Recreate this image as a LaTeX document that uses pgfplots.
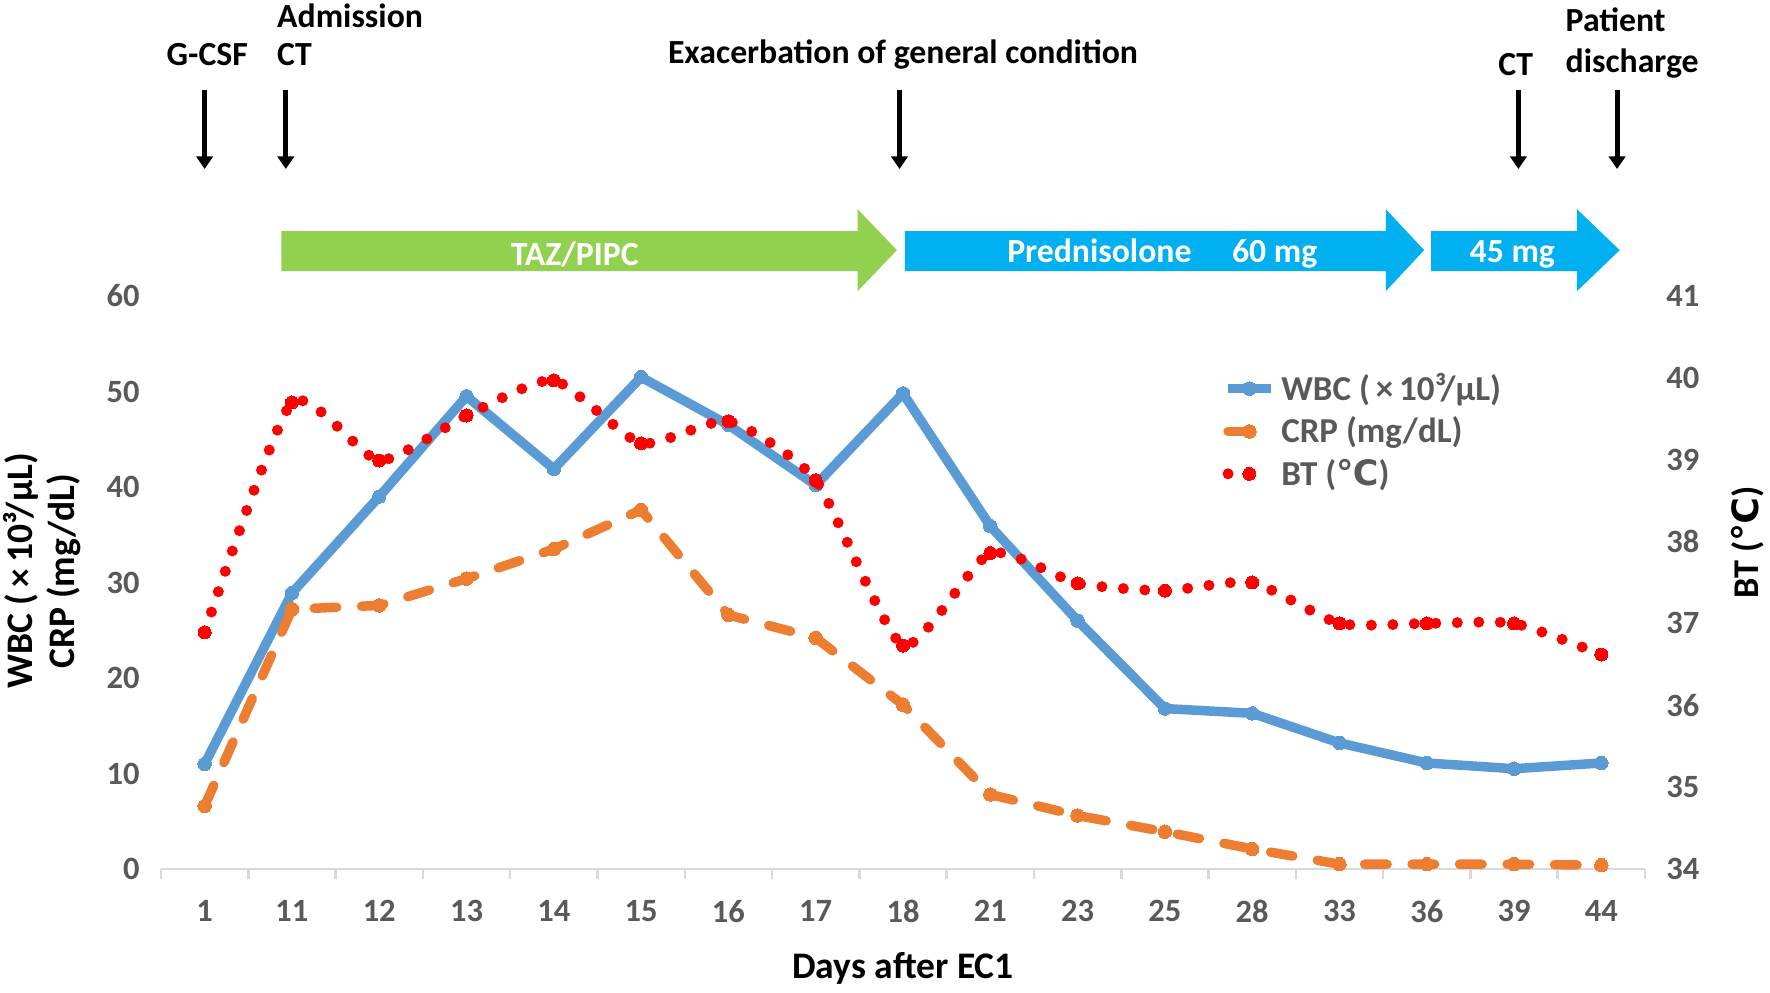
\documentclass[border=0pt]{standalone}
\usepackage{pgfplots}
\pgfplotsset{compat=1.18}
\usepackage{pgfplotstable}
\usepackage{fontspec}
\setmainfont{Carlito}
\newfontfamily\dejavu{DejaVu Sans}
\usetikzlibrary{arrows.meta}

\definecolor{wbc}{HTML}{5B9BD5}
\definecolor{crp}{HTML}{ED7D31}
\definecolor{bt}{HTML}{FF0000}
\definecolor{tickgray}{HTML}{595959}
\definecolor{axgray}{HTML}{D9D9D9}
\definecolor{tazgreen}{HTML}{92D050}
\definecolor{predblue}{HTML}{00B0F0}

\pgfplotstableread{
x day WBC  CRP  BT
0  1  11.0 6.6  36.89
1  11 28.9 27.2 39.70
2  12 39.0 27.6 38.99
3  13 49.5 30.4 39.54
4  14 41.9 33.5 39.97
5  15 51.5 37.6 39.20
6  16 46.5 26.6 39.47
7  17 40.2 24.2 38.75
8  18 49.8 17.2 36.73
9  21 35.9 7.8  37.86
10 23 26.0 5.6  37.49
11 25 16.8 3.9  37.40
12 28 16.3 2.1  37.50
13 33 13.2 0.5  37.00
14 36 11.1 0.5  37.00
15 39 10.5 0.5  37.00
16 44 11.1 0.4  36.62
}\datatable

\newcommand{\topfont}{\fontsize{13.5}{15}\selectfont\bfseries}
\pgfplotsset{
  base/.style={
    width=593.6pt, height=229.2pt, scale only axis,
    xmin=-0.5, xmax=16.5,
    /pgf/number format/assume math mode=true,
    ticklabel style={font=\fontsize{13}{15}\selectfont\bfseries, text=tickgray},
    major tick length=0pt,
  },
  wbcstyle/.style={wbc, line width=3.8pt, mark=*, mark size=2.7pt, mark options={solid, fill=wbc, draw=wbc, line width=0pt}},
  crpstyle/.style={crp, line width=3.8pt, line cap=round, dash pattern=on 9pt off 10pt, mark=*, mark size=2.7pt, mark options={solid, fill=crp, draw=crp, line width=0pt}},
  btstyle/.style={bt, line width=4.4pt, line cap=round, dash pattern=on 0pt off 8.6pt, mark=*, mark size=2.6pt, mark options={solid, fill=bt, draw=bt, line width=0pt}},
}

\begin{document}
\begin{tikzpicture}
\begin{axis}[base,
  ymin=0, ymax=60, ytick={0,10,...,60},
  axis x line*=bottom, axis y line*=left,
  y axis line style={draw=none},
  x axis line style={axgray, line width=1pt},
  xtick={0,...,16},
  xticklabels={1,11,12,13,14,15,16,17,18,21,23,25,28,33,36,39,44},
  minor xtick={-0.5,0.5,...,16.5},
  minor tick length=4pt, tick align=outside,
  minor tick style={axgray, line width=1pt},
  xticklabel style={yshift=-9pt},
  yticklabel style={xshift=-5pt},
  clip=false,
  xlabel={Days after EC1},
  xlabel style={at={(rel axis cs:0.5,-0.173)}, anchor=center, font=\fontsize{15}{17}\selectfont\bfseries},
  ylabel={WBC (\,×\,10³/μL)\\CRP (mg/dL)},
  ylabel style={at={(rel axis cs:-0.080,0.52)}, rotate=0, anchor=center, align=center, font=\fontsize{15}{17}\selectfont\bfseries},
]
\coordinate (SW) at (rel axis cs:0,0);
\coordinate (NE) at (rel axis cs:1,1);

\addplot[wbcstyle] table[x=x, y=WBC] {\datatable};
\addplot[crpstyle] table[x=x, y=CRP] {\datatable};

% treatment block arrows
\fill[tazgreen] (axis cs:0.88,62.6) -- (axis cs:7.48,62.6) -- (axis cs:7.48,60.5) -- (axis cs:7.93,64.8) -- (axis cs:7.48,69.1) -- (axis cs:7.48,66.8) -- (axis cs:0.88,66.8) -- cycle;
\fill[predblue] (axis cs:8.02,62.6) -- (axis cs:13.53,62.6) -- (axis cs:13.53,60.5) -- (axis cs:13.97,64.8) -- (axis cs:13.53,69.1) -- (axis cs:13.53,66.8) -- (axis cs:8.02,66.8) -- cycle;
\fill[predblue] (axis cs:14.05,62.6) -- (axis cs:15.72,62.6) -- (axis cs:15.72,60.5) -- (axis cs:16.21,64.8) -- (axis cs:15.72,69.1) -- (axis cs:15.72,66.8) -- (axis cs:14.05,66.8) -- cycle;
\node[text=white, font=\topfont] at (axis cs:4.24,64.4) {TAZ/PIPC};
\node[text=white, font=\topfont] at (axis cs:10.97,64.4) {Prednisolone\hspace{1.2em}60 mg};
\node[text=white, font=\topfont] at (axis cs:14.98,64.4) {45 mg};

% event arrows
\pgfplotsinvokeforeach{0,0.93,7.96,15.05,16.18}{
  \draw[black, line width=2pt, -{Triangle[width=6.5pt,length=5pt]}] (axis cs:#1,81.6) -- (axis cs:#1,73.3);
}
\node[font=\topfont] at (axis cs:0.03,85.3) {G-CSF};
\node[font=\topfont, anchor=west] at (axis cs:0.73,89.3) {Admission};
\node[font=\topfont, anchor=west] at (axis cs:0.73,85.3) {CT};
\node[font=\topfont] at (axis cs:8.0,85.3) {Exacerbation of general condition};
\node[font=\topfont] at (axis cs:15.02,84.2) {CT};
\node[font=\topfont, anchor=west] at (axis cs:15.49,88.9) {Patient};
\node[font=\topfont, anchor=west] at (axis cs:15.49,84.3) {discharge};
\end{axis}

\begin{axis}[base,
  ymin=34, ymax=41, ytick={34,...,41},
  axis y line*=right, axis x line=none,
  y axis line style={draw=none},
  yticklabel style={xshift=5pt},
  clip=false,
  ylabel={BT ({\dejavu ℃})},
  ylabel style={at={(rel axis cs:1.069,0.57)}, rotate=0, anchor=center, font=\fontsize{14.5}{17}\selectfont\bfseries},
  legend style={at={(rel axis cs:0.715,0.875)}, anchor=north west, draw=none, fill=none,
    font=\fontsize{14}{16}\selectfont\bfseries, text=tickgray, row sep=1pt,
    inner sep=0pt},
  legend cell align=left,
]
\addlegendimage{wbcstyle}
\addlegendentry{WBC (\,×\,10³/μL)}
\addlegendimage{crpstyle}
\addlegendentry{CRP (mg/dL)}
\addplot[btstyle, smooth, tension=0.35] table[x=x, y=BT] {\datatable};
\addlegendentry{BT ({\dejavu ℃})}
\end{axis}

\pgfresetboundingbox
\path ([shift={(-64.4pt,-49.6pt)}]SW) rectangle ([shift={(50pt,118.4pt)}]NE);
\end{tikzpicture}
\end{document}
